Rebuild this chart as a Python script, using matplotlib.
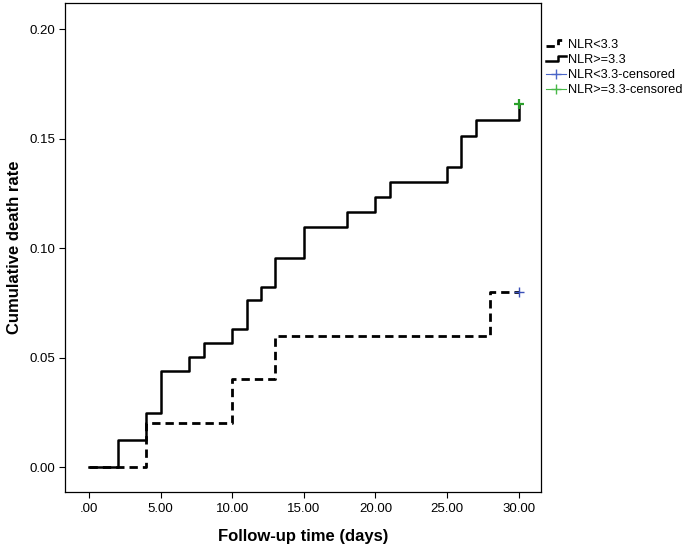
import matplotlib
matplotlib.use("Agg")
import matplotlib.pyplot as plt
from matplotlib.lines import Line2D
from matplotlib.legend_handler import HandlerLine2D

plt.rcParams['font.family'] = ['Liberation Sans', 'DejaVu Sans']

# Data
low_times = [0, 4, 10, 13, 28, 30]
low_rates = [0.0, 0.020, 0.040, 0.060, 0.080, 0.080]
high_times = [0, 2, 4, 5, 7, 8, 10, 11, 12, 13, 15, 18, 20, 21, 25, 26, 27, 30]
high_rates = [0.0, 0.0123, 0.0249, 0.0438, 0.0501, 0.0565, 0.0630, 0.0762,
              0.0822, 0.0956, 0.1097, 0.1166, 0.1234, 0.1303, 0.1371,
              0.1513, 0.1584, 0.1658]
cens_low = (30, 0.080)
cens_high = (30, 0.1658)
xticks = [0, 5, 10, 15, 20, 25, 30]
xticklabels = ['.00', '5.00', '10.00', '15.00', '20.00', '25.00', '30.00']
yticks = [0.0, 0.05, 0.10, 0.15, 0.20]
yticklabels = ['0.00', '0.05', '0.10', '0.15', '0.20']
labels = ['NLR<3.3', 'NLR>=3.3', 'NLR<3.3-censored', 'NLR>=3.3-censored']

fig = plt.figure(figsize=(6.89, 5.56), dpi=100)
ax = fig.add_axes([0.0943, 0.1151, 0.7852 - 0.0943, 0.9946 - 0.1151])

l1, = ax.step(low_times, low_rates, where='post', color='black', lw=2.0,
              linestyle=(0, (3.0, 1.8)))
l2, = ax.step(high_times, high_rates, where='post', color='black', lw=1.8)
c1, = ax.plot([cens_low[0]], [cens_low[1]], marker='+', color='#3a50b8',
              markersize=7, mew=1.0, linestyle='none')
c2, = ax.plot([cens_high[0]], [cens_high[1]], marker='+', color='#2aa02a',
              markersize=7, mew=1.6, linestyle='none')

ax.set_xlim(-1.68, 31.56)
ax.set_ylim(-0.0114, 0.2119)
ax.set_xticks(xticks)
ax.set_xticklabels(xticklabels)
ax.set_yticks(yticks)
ax.set_yticklabels(yticklabels)
ax.tick_params(direction='out', length=4, width=0.8, labelsize=9.5,
               colors='black', pad=3)
ax.tick_params(axis='x', pad=4)
for s in ax.spines.values():
    s.set_linewidth(0.9)
ax.set_xlabel('Follow-up time (days)', fontsize=12, fontweight='bold', labelpad=10)
ax.set_ylabel('Cumulative death rate', fontsize=12, fontweight='bold', labelpad=5)


class StepHandler(HandlerLine2D):
    def create_artists(self, legend, orig_handle, xdescent, ydescent,
                       width, height, fontsize, trans):
        x0 = -xdescent
        x1 = x0 + width
        xm = x0 + width * 0.6
        ylo = -ydescent + height * 0.15
        yhi = -ydescent + height * 0.8
        line = Line2D([x0, xm, xm, x1], [ylo, ylo, yhi, yhi])
        self.update_prop(line, orig_handle, legend)
        line.set_transform(trans)
        return [line]


leg = fig.legend([l1, l2, c1, c2], labels, loc='upper left',
                 bbox_to_anchor=(0.7925, 0.9306), frameon=False,
                 fontsize=9.2, handlelength=1.6, handletextpad=0.15,
                 labelspacing=0.25, borderaxespad=0, borderpad=0,
                 handler_map={l1: StepHandler(), l2: StepHandler()})
for h in leg.legend_handles[2:]:
    h.set_linestyle('-')
    h.set_linewidth(0.8)
    h.set_markeredgewidth(1.0)
leg.legend_handles[2].set_color('#4a66c8')
leg.legend_handles[3].set_color('#48b848')

fig.savefig('out.png', dpi=100)
